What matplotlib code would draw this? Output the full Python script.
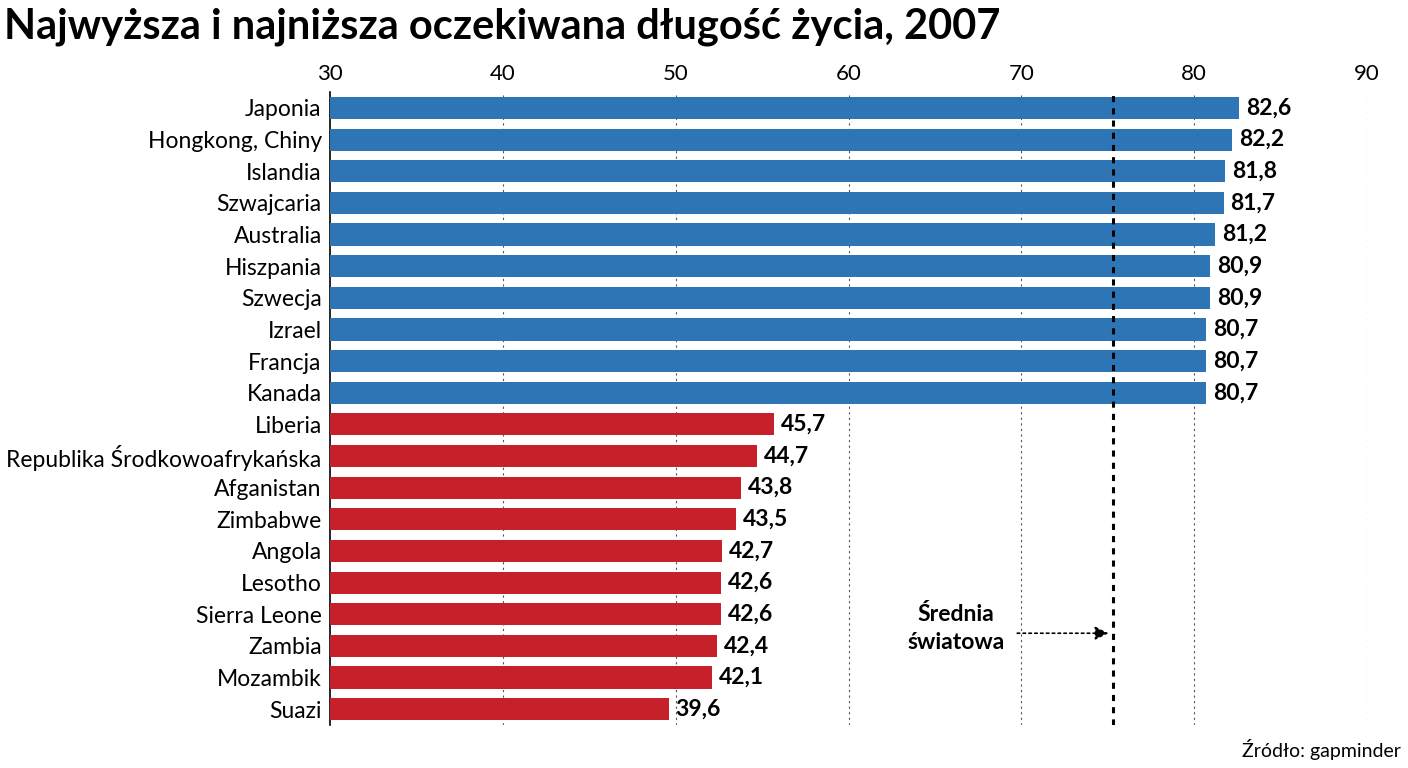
import matplotlib
matplotlib.use("Agg")
import matplotlib.pyplot as plt

plt.rcParams["font.family"] = ["Lato", "DejaVu Sans"]

countries = ["Japonia", "Hongkong, Chiny", "Islandia", "Szwajcaria", "Australia",
             "Hiszpania", "Szwecja", "Izrael", "Francja", "Kanada",
             "Liberia", "Republika Środkowoafrykańska", "Afganistan", "Zimbabwe",
             "Angola", "Lesotho", "Sierra Leone", "Zambia", "Mozambik", "Suazi"]
values = [82.6, 82.2, 81.8, 81.7, 81.2, 80.9, 80.9, 80.7, 80.7, 80.7,
          45.7, 44.7, 43.8, 43.5, 42.7, 42.6, 42.6, 42.4, 42.1, 39.6]
world_avg = 75.3
# in the original graphic the lowest group is drawn 10 years longer than its value
low_shift = 10
BLUE = "#2e75b6"; RED = "#c6202b"

fig = plt.figure(figsize=(14.08, 7.68), dpi=100)
ax = fig.add_axes([0.2344, 0.056, 0.7365, 0.824])
ys = list(range(len(countries)))
colors = [BLUE]*10 + [RED]*10
ends = [v if i < 10 else v + low_shift for i, v in enumerate(values)]
ax.barh(ys, [e - 30 for e in ends], left=30, height=0.7, color=colors, zorder=3)
for y, v, e in zip(ys, values, ends):
    ax.text(e + 0.4, y, f"{v:.1f}".replace(".", ","), va="center", ha="left",
            fontsize=16.5, fontweight="bold", zorder=4)
ax.set_xlim(30, 90)
ax.set_ylim(len(countries) - 0.5, -0.5)
ax.set_yticks(ys)
ax.set_yticklabels(countries, fontsize=16.5)
ax.set_xticks(range(30, 91, 10))
ax.xaxis.tick_top()
ax.tick_params(axis="x", labelsize=16, length=0, pad=6)
ax.tick_params(axis="y", length=0, pad=6)
for s in ["top", "right", "bottom"]:
    ax.spines[s].set_visible(False)
ax.spines["left"].set_linewidth(1.2)
for x in range(40, 91, 10):
    ax.axvline(x, color="#555555", ls=(0, (2, 3)), lw=0.8, zorder=1)
ax.axvline(world_avg, color="black", ls=(0, (2, 2)), lw=2.2, zorder=5)
ax.text(66.2, 16.45, "Średnia\nświatowa", fontsize=16.5, fontweight="bold",
        ha="center", va="center", linespacing=1.4)
ax.annotate("", xy=(world_avg - 0.1, 16.6), xytext=(69.6, 16.6),
            arrowprops=dict(arrowstyle="-|>", color="black", lw=1.2,
                            ls=(0, (1.5, 2)), mutation_scale=20))
fig.text(0.003, 0.99, "Najwyższa i najniższa oczekiwana długość życia, 2007",
         fontsize=30, fontweight="bold", va="top")
fig.text(0.995, 0.01, "Źródło: gapminder", fontsize=14, ha="right", va="bottom")
fig.savefig("out.png", dpi=100)
